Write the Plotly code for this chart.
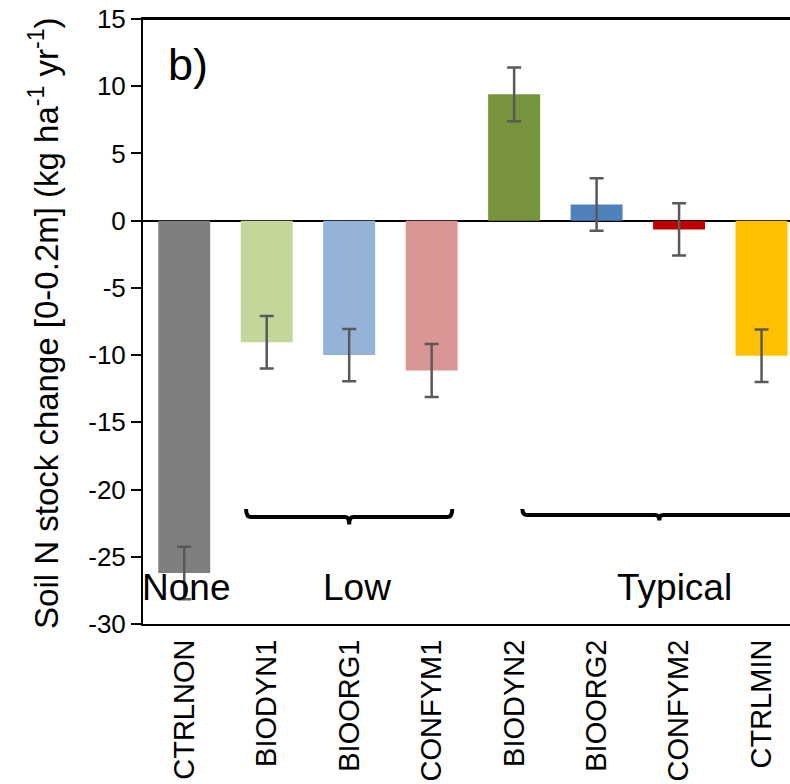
import plotly.graph_objects as go

categories = ["CTRLNON", "BIODYN1", "BIOORG1", "CONFYM1", "BIODYN2", "BIOORG2", "CONFYM2", "CTRLMIN"]
values = [-26.2, -9.05, -10.0, -11.15, 9.4, 1.2, -0.65, -10.05]
errors = [1.95, 1.95, 1.95, 1.97, 2.0, 1.95, 1.95, 1.95]
colors = ["#7f7f7f", "#c4d79b", "#95b3d7", "#da9694", "#77933c", "#4f81bd", "#c00000", "#ffc000"]

group_labels = ["None", "Low", "Typical"]
group_label_x = [0.02, 2.1, 5.95]
y_ticks = [-30, -25, -20, -15, -10, -5, 0, 5, 10, 15]
y_tick_text = ["-30", "-25", "-20", "-15", "-10", "-5", "0", "5", "10", "15"]

FONT = "Liberation Sans, Arial, sans-serif"

x_idx = list(range(len(categories)))

fig = go.Figure()
fig.add_trace(go.Bar(
    x=x_idx, y=values, width=0.63,
    marker=dict(color=colors, line=dict(width=0)),
    error_y=dict(type="data", array=errors, visible=True, color="#595959", thickness=2.5, width=7),
    showlegend=False,
))

def brace(x0, x1, xm, y, hook, tip):
    return (f"M {x0},{y + hook} Q {x0},{y} {x0 + 0.06},{y} L {xm - 0.05},{y} "
            f"Q {xm},{y} {xm},{y - tip} Q {xm},{y} {xm + 0.05},{y} L {x1 - 0.06},{y} "
            f"Q {x1},{y} {x1},{y + hook}")

shapes = [
    dict(type="path", xref="x", yref="y", path=brace(0.75, 3.25, 2.0, -22.05, 0.6, 0.55),
         line=dict(color="black", width=4)),
    dict(type="path", xref="x", yref="y", path=brace(4.1, 7.42, 5.76, -21.9, 0.45, 0.4),
         line=dict(color="black", width=4)),
    dict(type="line", xref="paper", yref="paper", x0=0, x1=1, y0=1, y1=1,
         line=dict(color="black", width=2)),
]

annotations = [
    dict(x=gx, y=-27.3, xref="x", yref="y", text=gt, showarrow=False,
         font=dict(size=37, family=FONT, color="black"), xanchor="center", yanchor="middle")
    for gx, gt in zip(group_label_x, group_labels)
]
annotations.append(dict(x=0.036, y=0.925, xref="paper", yref="paper", text="b)", showarrow=False,
                        font=dict(size=45, family=FONT, color="black"), xanchor="left", yanchor="middle"))
annotations.append(dict(x=-0.152, y=0.497, xref="paper", yref="paper",
                        text="Soil N stock change [0-0.2m] (kg ha<sup>-1</sup> yr<sup>-1</sup>)",
                        showarrow=False, textangle=-90,
                        font=dict(size=33, family=FONT, color="black"), xanchor="center", yanchor="middle"))

fig.update_layout(
    width=790, height=784,
    margin=dict(l=143, r=0, t=19, b=160),
    paper_bgcolor="white", plot_bgcolor="white",
    font=dict(family=FONT, color="black"),
    shapes=shapes, annotations=annotations,
)
fig.update_xaxes(
    range=[-0.5, 7.345], tickmode="array", tickvals=x_idx, ticktext=categories,
    tickangle=-90, tickfont=dict(size=29, family=FONT, color="black"),
    showline=True, linecolor="black", linewidth=2, mirror=True,
    ticks="", showgrid=False, zeroline=False, ticklabelstandoff=2, automargin=False,
    ticklabeloverflow="allow",
)
fig.update_yaxes(
    range=[-30, 15], tickmode="array", tickvals=y_ticks, ticktext=y_tick_text,
    ticks="outside", ticklen=10, tickwidth=2, tickcolor="black",
    tickfont=dict(size=26, family=FONT, color="black"),
    showline=True, linecolor="black", linewidth=2, automargin=False,
    showgrid=False, zeroline=True, zerolinecolor="black", zerolinewidth=2,
    ticklabeloverflow="allow",
)

fig.write_html("out.html", config={"displayModeBar": False},
               post_script="document.body.style.margin='0';document.body.style.overflow='hidden';")
